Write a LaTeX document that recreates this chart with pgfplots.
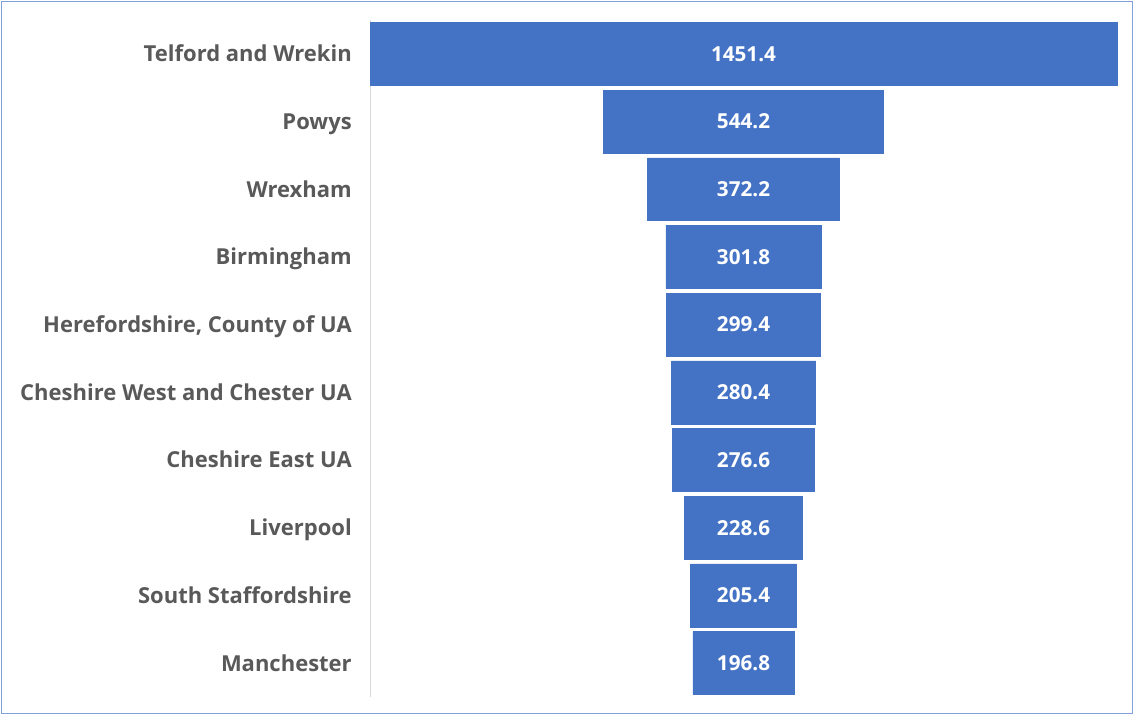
\documentclass[border=0pt]{standalone}
\usepackage{pgfplots}
\pgfplotsset{compat=1.18}
\usepackage{pgfplotstable}
\usepackage{fontspec}
\setmainfont{Open Sans}
\definecolor{barblue}{HTML}{4472C4}
\definecolor{labgray}{HTML}{595959}
\definecolor{axgray}{HTML}{D9D9D9}
\definecolor{framec}{HTML}{7FA0DC}

\pgfplotstableread[col sep=comma]{
idx,v
0,1451.4
1,544.2
2,372.2
3,301.8
4,299.4
5,280.4
6,276.6
7,228.6
8,205.4
9,196.8
}\data

\begin{document}
\begin{tikzpicture}
\path[use as bounding box] (0,0) rectangle (850.5pt,536.25pt);
\draw[framec, line width=1.1pt] (1.1pt,1.1pt) rectangle (849.4pt,535.15pt);
\begin{axis}[
  at={(277.5pt,13.5pt)}, anchor=south west,
  scale only axis, width=560.25pt, height=507.75pt,
  xmin=-725.7, xmax=725.7, ymin=-0.5, ymax=9.5,
  y dir=reverse,
  axis x line=none,
  axis y line*=left,
  y axis line style={axgray, line width=0.75pt},
  major tick length=0pt,
  ytick={0,...,9},
  yticklabels={Telford and Wrekin, Powys, Wrexham, Birmingham, {Herefordshire, County of UA}, Cheshire West and Chester UA, Cheshire East UA, Liverpool, South Staffordshire, Manchester},
  yticklabel style={anchor=base east, inner sep=0pt, xshift=-13.5pt, yshift=-5.9pt, text=labgray, font=\bfseries\fontsize{16.5}{19}\selectfont},
  clip=false,
]
\addplot[xbar, bar shift=0pt, bar width=0.93, fill=barblue, draw=barblue, line width=0.4pt] table[x expr=\thisrow{v}/2, y=idx]{\data};
\addplot[xbar, bar shift=0pt, bar width=0.93, fill=barblue, draw=barblue, line width=0.4pt] table[x expr=-\thisrow{v}/2, y=idx]{\data};
\addplot[draw=none, mark=none, nodes near coords, point meta=explicit symbolic,
  every node near coord/.append style={anchor=base, inner sep=0pt, yshift=-5.5pt, text=white, font=\bfseries\fontsize{15.5}{18}\selectfont}]
  table[x expr=0, y=idx, meta=v]{\data};
\end{axis}
\end{tikzpicture}
\end{document}
